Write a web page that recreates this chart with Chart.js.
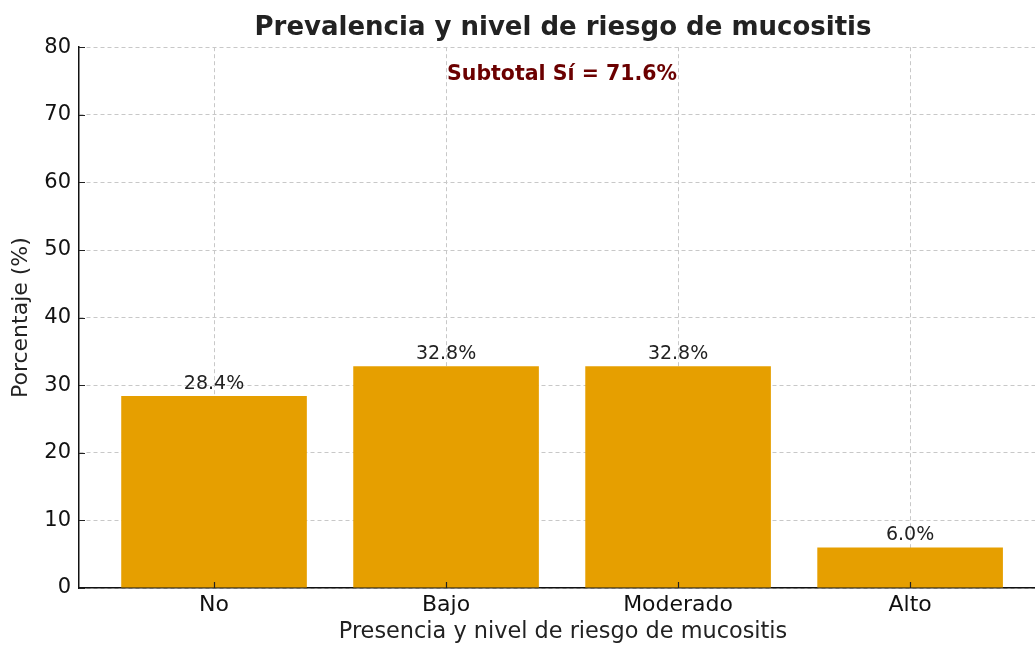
<!DOCTYPE html>
<html>
<head>
<meta charset="utf-8">
<script src="https://cdn.jsdelivr.net/npm/chart.js@4"></script>
<style>
  html, body { margin: 0; padding: 0; background: #fff; overflow: hidden; }
  canvas { display: block; }
</style>
</head>
<body>
<canvas id="chart" width="1047" height="647"></canvas>
<script>
const categories = ["No", "Bajo", "Moderado", "Alto"];
const percentages = [28.4, 32.8, 32.8, 6.0];
const yTicks = [0, 10, 20, 30, 40, 50, 60, 70, 80];
const subtotalText = "Subtotal Sí = 71.6%";

const FONT = "'DejaVu Sans', sans-serif";

// small inward tick marks like the original
const innerTicks = {
    id: 'innerTicks',
    afterDraw(chart) {
        const ctx = chart.ctx;
        const x = chart.scales.x, y = chart.scales.y;
        ctx.save();
        ctx.strokeStyle = '#222';
        ctx.lineWidth = 1.2;
        ctx.beginPath();
        categories.forEach((c, i) => {
            const px = Math.round(x.getPixelForValue(i)) + 0.5;
            ctx.moveTo(px, y.bottom);
            ctx.lineTo(px, y.bottom - 6);
        });
        yTicks.forEach(v => {
            const py = Math.round(y.getPixelForValue(v)) + 0.5;
            ctx.moveTo(x.left, py);
            ctx.lineTo(x.left + 6, py);
        });
        ctx.stroke();
        ctx.restore();
    }
};

const barLabels = {
    id: 'barLabels',
    afterDatasetsDraw(chart) {
        const ctx = chart.ctx;
        const meta = chart.getDatasetMeta(0);
        ctx.save();
        ctx.font = "19px " + FONT;
        ctx.fillStyle = '#222';
        ctx.textAlign = 'center';
        ctx.textBaseline = 'middle';
        meta.data.forEach((bar, i) => {
            ctx.fillText(percentages[i].toFixed(1) + '%', bar.x, bar.y - 12);
        });
        // subtotal note
        const x = chart.scales.x, y = chart.scales.y;
        ctx.font = "bold 20.5px " + FONT;
        ctx.fillStyle = '#6b0000';
        ctx.fillText(subtotalText, x.getPixelForValue(1.5), y.getPixelForValue(76));
        ctx.restore();
    }
};

new Chart(document.getElementById('chart'), {
    type: 'bar',
    data: {
        datasets: [{
            data: categories.map((c, i) => ({ x: i, y: percentages[i] })),
            backgroundColor: '#E69F00',
            borderWidth: 0,
            categoryPercentage: 1.0,
            barPercentage: 0.8
        }]
    },
    options: {
        responsive: false,
        animation: false,
        devicePixelRatio: 1,
        layout: { padding: { left: 0, right: 0, top: 0, bottom: 0 } },
        plugins: {
            legend: { display: false },
            tooltip: { enabled: false },
            title: {
                display: true,
                fullSize: false,
                text: 'Prevalencia y nivel de riesgo de mucositis',
                color: '#222',
                font: { family: FONT, size: 26, weight: 'bold' },
                padding: { top: 13, bottom: 3 }
            }
        },
        scales: {
            x: {
                type: 'linear',
                offset: false,
                min: -0.582,
                max: 3.59,
                afterBuildTicks: s => { s.ticks = categories.map((c, i) => ({ value: i })); },
                afterFit: s => { s.height = 59; },
                ticks: {
                    color: '#111',
                    font: { family: FONT, size: 22 },
                    padding: 4,
                    callback: v => categories[v]
                },
                grid: {
                    offset: false,
                    color: '#c8c8c8',
                    lineWidth: 1,
                    drawTicks: false
                },
                border: { display: true, color: '#111', width: 1.5, dash: [4, 3] },
                title: {
                    display: true,
                    text: 'Presencia y nivel de riesgo de mucositis',
                    color: '#222',
                    font: { family: FONT, size: 22.4 },
                    padding: { top: 0, bottom: 1 }
                }
            },
            y: {
                min: 0,
                max: 80,
                afterBuildTicks: s => { s.ticks = yTicks.map(v => ({ value: v })); },
                afterFit: s => { s.width = 79; },
                ticks: {
                    color: '#111',
                    font: { family: FONT, size: 21 },
                    padding: 8
                },
                grid: {
                    color: '#c8c8c8',
                    lineWidth: 1,
                    drawTicks: false
                },
                border: { display: true, color: '#111', width: 1.5, dash: [4, 3] },
                title: {
                    display: true,
                    text: 'Porcentaje (%)',
                    color: '#222',
                    font: { family: FONT, size: 22 },
                    padding: { top: 8, bottom: 0 }
                }
            }
        }
    },
    plugins: [innerTicks, barLabels]
});
</script>
</body>
</html>
